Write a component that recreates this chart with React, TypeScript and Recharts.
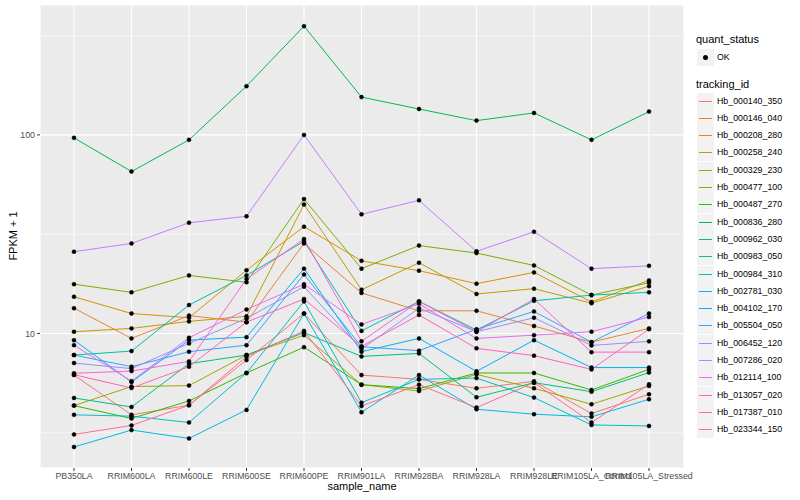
import { LineChart, Line, XAxis, YAxis, CartesianGrid } from 'recharts';

const samples = [
  'PB350LA', 'RRIM600LA', 'RRIM600LE', 'RRIM600SE', 'RRIM600PE', 'RRIM901LA',
  'RRIM928BA', 'RRIM928LA', 'RRIM928LE', 'RRIM105LA_Control', 'RRIM105LA_Stressed',
];

const trackingIds = [
  'Hb_000140_350', 'Hb_000146_040', 'Hb_000208_280', 'Hb_000258_240', 'Hb_000329_230',
  'Hb_000477_100', 'Hb_000487_270', 'Hb_000836_280', 'Hb_000962_030', 'Hb_000983_050',
  'Hb_000984_310', 'Hb_002781_030', 'Hb_004102_170', 'Hb_005504_050', 'Hb_006452_120',
  'Hb_007286_020', 'Hb_012114_100', 'Hb_013057_020', 'Hb_017387_010', 'Hb_023344_150',
];

// ggplot default hue palette for 20 levels
const colors = [
  '#F8766D', '#EA8331', '#D89000', '#C09B00', '#A3A500', '#7CAE00', '#39B600', '#00BB4E',
  '#00BF7D', '#00C1A3', '#00BFC4', '#00BAE0', '#00B0F6', '#35A2FF', '#9590FF', '#C77CFF',
  '#E76BF3', '#FA62DB', '#FF62BC', '#FF6C91',
];

// FPKM + 1, one value per sample
const hb000140_350 = [6.17, 3.89, 4.35, 7.34, 12.6, 6.17, 5.87, 5.29, 5.74, 3.95, 4.94];
const hb000146_040 = [13.4, 9.44, 12.3, 11.4, 28.4, 16.0, 13.0, 13.0, 10.9, 9.04, 10.6];
const hb000208_280 = [15.3, 12.6, 12.0, 20.8, 34.5, 23.2, 20.7, 17.8, 20.3, 14.4, 18.5];
const hb000258_240 = [10.2, 10.6, 11.5, 12.2, 44.6, 16.6, 22.7, 15.8, 16.8, 14.2, 17.3];
const hb000329_230 = [4.33, 5.4, 5.46, 7.78, 9.8, 5.52, 5.13, 6.22, 5.29, 4.4, 5.44];
const hb000477_100 = [17.7, 16.1, 19.6, 18.1, 47.5, 21.2, 27.7, 25.4, 22.0, 15.6, 18.0];
const hb000487_270 = [4.33, 3.73, 4.57, 6.32, 8.53, 5.52, 5.27, 6.32, 6.32, 5.19, 6.59];
const hb000836_280 = [96.6, 65.4, 94.4, 176, 353, 155, 135, 118, 129, 94.4, 131];
const hb000962_030 = [4.73, 4.26, 7.04, 7.78, 10.1, 7.66, 7.93, 4.77, 5.65, 5.09, 6.35];
const hb000983_050 = [7.78, 8.15, 13.9, 19.6, 29.1, 10.3, 14.5, 10.4, 14.6, 15.6, 16.1];
const hb000984_310 = [3.89, 3.83, 3.56, 6.32, 14.5, 4.48, 5.87, 5.96, 4.75, 3.46, 3.42];
const hb002781_030 = [2.68, 3.26, 2.96, 4.12, 12.6, 4.01, 6.17, 4.15, 3.92, 3.8, 4.66];
const hb004102_170 = [9.25, 5.69, 9.25, 9.58, 21.2, 8.09, 9.44, 6.44, 9.25, 6.73, 6.73];
const hb005504_050 = [7.78, 6.8, 8.09, 8.73, 19.8, 8.57, 8.19, 10.5, 12.9, 9.04, 12.6];
const hb006452_120 = [7.09, 6.65, 8.91, 11.9, 17.2, 8.34, 13.4, 10.2, 12.0, 8.7, 9.12];
const hb007286_020 = [25.8, 28.4, 36.1, 38.9, 100, 39.8, 46.8, 25.9, 32.5, 21.2, 21.9];
const hb012114_100 = [8.73, 5.75, 9.51, 13.2, 17.7, 11.1, 14.1, 9.44, 9.8, 10.2, 12.1];
const hb013057_020 = [6.3, 6.46, 7.23, 18.8, 29.9, 9.12, 14.5, 10.2, 14.9, 8.05, 8.05];
const hb017387_010 = [6.2, 5.31, 6.8, 11.4, 14.9, 8.6, 12.4, 8.41, 7.73, 6.59, 10.5];
const hb023344_150 = [3.1, 3.44, 4.35, 7.64, 10.3, 4.31, 5.52, 4.23, 5.65, 3.56, 5.54];

const seriesValues = [
  hb000140_350, hb000146_040, hb000208_280, hb000258_240, hb000329_230,
  hb000477_100, hb000487_270, hb000836_280, hb000962_030, hb000983_050,
  hb000984_310, hb002781_030, hb004102_170, hb005504_050, hb006452_120,
  hb007286_020, hb012114_100, hb013057_020, hb017387_010, hb023344_150,
];

const yTicks = [10, 100];
const yMinor = [3.162, 31.62, 316.2];

const data = samples.map((sample, i) => {
  const row: Record<string, string | number> = { sample };
  trackingIds.forEach((id, j) => {
    row[id] = seriesValues[j][i];
  });
  return row;
});

const font = '"Liberation Sans", Arial, Helvetica, sans-serif';
const tickStyle = { fill: '#4D4D4D', fontSize: 8.8, fontFamily: font };

export default function App() {
  return (
    <div style={{ position: 'absolute', left: 0, top: 0, width: 800, height: 500, background: '#fff', fontFamily: font }}>
      <LineChart
        width={800}
        height={500}
        data={data}
        margin={{ top: 5, right: 116, left: 10, bottom: 12 }}
      >
        <CartesianGrid fill="#EBEBEB" fillOpacity={1} stroke="#FFFFFF" strokeWidth={1.1} />
        <CartesianGrid
          horizontalValues={yMinor}
          vertical={false}
          stroke="#FFFFFF"
          strokeWidth={0.5}
        />
        <XAxis
          dataKey="sample"
          interval={0}
          padding={{ left: 34, right: 35 }}
          axisLine={false}
          tickLine={{ stroke: '#333333' }}
          tickSize={3}
          tick={tickStyle}
          height={20}
        />
        <YAxis
          scale="log"
          domain={[2.1, 451]}
          allowDataOverflow
          ticks={yTicks}
          axisLine={false}
          tickLine={{ stroke: '#333333' }}
          tickSize={3}
          tick={tickStyle}
          width={30}
        />
        {trackingIds.map((id, j) => (
          <Line
            key={id}
            type="linear"
            dataKey={id}
            stroke={colors[j]}
            strokeWidth={1}
            dot={{ r: 2, fill: '#000', stroke: '#000', strokeWidth: 0.5 }}
            activeDot={false}
            isAnimationActive={false}
          />
        ))}
      </LineChart>

      <div style={{ position: 'absolute', left: 362, top: 480, transform: 'translateX(-50%)', fontSize: 11, color: '#000' }}>
        sample_name
      </div>
      <div
        style={{
          position: 'absolute', left: 13, top: 236, fontSize: 11, color: '#000',
          transform: 'translate(-50%, -50%) rotate(-90deg)', whiteSpace: 'nowrap',
        }}
      >
        FPKM + 1
      </div>

      <div style={{ position: 'absolute', left: 696, top: 33, fontSize: 11, color: '#000' }}>quant_status</div>
      <div style={{ position: 'absolute', left: 697, top: 49, width: 17, height: 17, background: '#F2F2F2' }}>
        <div style={{ position: 'absolute', left: 6, top: 6, width: 5, height: 5, borderRadius: 3, background: '#000' }} />
      </div>
      <div style={{ position: 'absolute', left: 717, top: 52, fontSize: 8.8, color: '#000' }}>OK</div>

      <div style={{ position: 'absolute', left: 696, top: 78, fontSize: 11, color: '#000' }}>tracking_id</div>
      {trackingIds.map((id, j) => (
        <div key={id} style={{ position: 'absolute', left: 697, top: Math.round(92.5 + j * 17.3), height: 17, width: 100 }}>
          <div style={{ position: 'absolute', left: 0, top: 0, width: 17, height: 17, background: '#F2F2F2' }}>
            <div style={{ position: 'absolute', left: 2, top: 8, width: 13, height: 1, background: colors[j] }} />
          </div>
          <div style={{ position: 'absolute', left: 20, top: 3, fontSize: 8.8, color: '#000', whiteSpace: 'nowrap' }}>{id}</div>
        </div>
      ))}
    </div>
  );
}
